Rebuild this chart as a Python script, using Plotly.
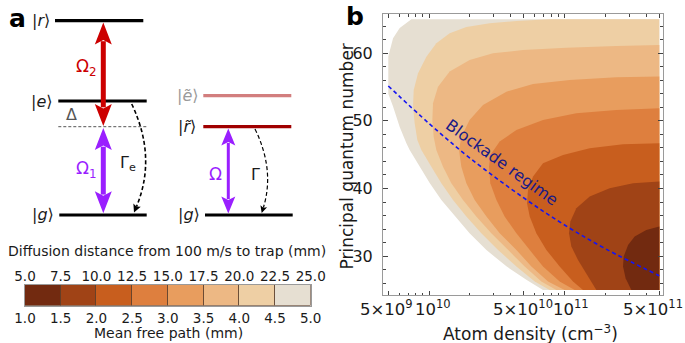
import math
import plotly.graph_objects as go

FW, FH = 685, 343
FONT = "DejaVu Sans"

# ---------------- panel b data ----------------
density_extent = [5.0e9, 5.0e11]   # atom density range of the map (cm^-3)
nq_extent = [25.0, 65.0]           # principal quantum number range of the map

# mean-free-path contour boundaries (mm): density (cm^-3) and quantum number
b50_n = [6.93e10, 5.22e10, 3.72e10, 2.65e10, 1.99e10, 1.545e10, 1.232e10, 1.01e10, 8.52e9, 7.19e9,
         6.80e9, 6.07e9, 5.42e9, 5.0e9, 5.0e9, 5.42e9, 6.07e9, 7.40e9]
b50_N = [25.0, 26.5, 28.5, 30.9, 33.4, 35.9, 38.3, 40.8, 43.2, 45.7,
         46.7, 49.1, 52.1, 54.0, 59.5, 62.2, 63.7, 65.0]
b45_n = [7.76e10, 6.02e10, 4.41e10, 3.23e10, 2.43e10, 1.884e10, 1.502e10, 1.232e10, 1.039e10, 8.77e9,
         8.19e9, 7.83e9, 7.61e9, 7.70e9, 8.29e9, 9.55e9, 1.131e10, 1.419e10, 1.884e10, 2.80e10, 4.41e10, 7.76e10]
b45_N = [25.0, 26.25, 28.46, 30.92, 33.39, 35.85, 38.31, 40.77, 43.23, 45.69,
         47.17, 49.63, 52.10, 54.56, 57.02, 59.48, 61.45, 62.93, 63.85, 64.40, 64.75, 65.0]
b40_n = [8.69e10, 6.74e10, 5.08e10, 3.82e10, 2.88e10, 2.23e10, 1.78e10, 1.46e10, 1.267e10, 1.131e10,
         1.081e10, 1.057e10, 1.069e10, 1.164e10, 1.419e10, 1.993e10, 2.96e10, 4.93e10, 1.03e11, 2.41e11, 5.0e11]
b40_N = [25.0, 26.25, 28.46, 30.92, 33.39, 35.85, 38.31, 40.77, 43.23, 45.69,
         47.66, 50.13, 52.59, 55.05, 57.27, 58.99, 59.97, 60.47, 60.81, 61.06, 61.20]
b35_n = [1.0e11, 7.55e10, 5.69e10, 4.41e10, 3.32e10, 2.65e10, 2.17e10, 1.884e10, 1.73e10, 1.663e10,
         1.73e10, 1.99e10, 2.50e10, 3.72e10, 5.85e10, 1.09e11, 2.41e11, 5.0e11]
b35_N = [25.0, 26.25, 28.46, 30.92, 33.39, 35.85, 38.31, 40.77, 43.23, 45.69,
         47.66, 50.13, 52.34, 54.31, 55.44, 56.03, 56.43, 56.53]
b30_n = [1.187e11, 9.20e10, 6.93e10, 5.53e10, 4.41e10, 3.61e10, 3.14e10, 2.83e10, 2.77e10, 2.83e10,
         3.32e10, 4.41e10, 6.93e10, 1.22e11, 2.41e11, 5.0e11]
b30_N = [25.0, 26.25, 28.46, 30.92, 33.39, 35.85, 38.31, 40.77, 43.23, 44.96,
         46.93, 48.65, 50.13, 51.11, 51.60, 51.85]
b25_n = [1.368e11, 1.154e11, 9.20e10, 7.34e10, 6.19e10, 5.53e10, 5.28e10, 5.37e10, 5.85e10, 6.93e10,
         9.74e10, 1.532e11, 2.70e11, 5.0e11]
b25_N = [25.0, 26.25, 28.46, 30.92, 33.39, 35.85, 37.82, 39.79, 41.76, 43.72,
         44.96, 45.94, 46.53, 46.68]
b20_n = [1.716e11, 1.448e11, 1.256e11, 1.122e11, 1.078e11, 1.103e11, 1.221e11, 1.532e11, 2.15e11, 3.20e11, 5.0e11]
b20_N = [25.0, 27.48, 29.45, 31.42, 33.39, 35.11, 37.08, 38.80, 40.03, 40.77, 41.02]
b15_n = [3.11e11, 2.82e11, 2.70e11, 2.73e11, 2.94e11, 3.29e11, 4.01e11, 5.0e11]
b15_N = [25.0, 26.74, 28.46, 29.94, 31.66, 32.89, 33.88, 34.37]

mfp_levels = [5.0, 4.5, 4.0, 3.5, 3.0, 2.5, 2.0, 1.5]
boundaries = [(b50_n, b50_N), (b45_n, b45_N), (b40_n, b40_N), (b35_n, b35_N),
              (b30_n, b30_N), (b25_n, b25_N), (b20_n, b20_N), (b15_n, b15_N)]

# blockade-regime line
blk_n = [5.0e9, 1.0e10, 2.0e10, 5.0e10, 1.0e11, 2.0e11, 5.0e11]
blk_N = [55.15, 49.6, 44.5, 38.6, 34.6, 31.1, 27.1]

# colour scale (mean free path, mm) and the second scale (diffusion distance, mm)
band_edges = [1.0, 1.5, 2.0, 2.5, 3.0, 3.5, 4.0, 4.5, 5.0]
band_colors = ["#722A10", "#A04316", "#C85E1E", "#DE7F3E", "#E89D5E", "#EDB884", "#EECFA4", "#E6DFD2"]
diffusion_ticks = [5.0, 7.5, 10.0, 12.5, 15.0, 17.5, 20.0, 22.5, 25.0]

x_major = [5e9, 1e10, 5e10, 1e11, 5e11]
x_major_text = ["5×10<sup>9</sup>", "10<sup>10</sup>", "5×10<sup>10</sup>", "10<sup>11</sup>", "5×10<sup>11</sup>"]
x_label_shift = [-1.5, 4, -1.3, 6.5, -6]      # label offsets from their ticks (px), as in the figure
x_minor = [6e9, 7e9, 8e9, 9e9, 2e10, 3e10, 4e10, 6e10, 7e10, 8e10, 9e10, 2e11, 3e11, 4e11]
y_major = [30, 40, 50, 60]
y_minor = [26, 28, 32, 34, 36, 38, 42, 44, 46, 48, 52, 54, 56, 58, 62, 64]


def px(x):
    return x / FW


def py(y):
    return 1 - y / FH


# ---------------- panel b geometry (pixels) ----------------
FR_L, FR_R, FR_T, FR_B = 383, 663, 14, 295        # frame
DA_L, DA_R, DA_T, DA_B = 388.3, 659.3, 19.3, 290  # map edges
lx0, lx1 = math.log10(density_extent[0]), math.log10(density_extent[1])
sx = (lx1 - lx0) / (DA_R - DA_L)
xrange_ = [lx0 - (DA_L - FR_L) * sx, lx1 + (FR_R - DA_R) * sx]
sy = (nq_extent[1] - nq_extent[0]) / (DA_B - DA_T)
yrange_ = [nq_extent[0] - (FR_B - DA_B) * sy, nq_extent[1] + (DA_T - FR_T) * sy]

fig = go.Figure()

for lev, (bn, bN) in zip(mfp_levels, boundaries):
    xs, ys = list(bn), list(bN)
    if xs[-1] < density_extent[1]:
        xs.append(density_extent[1]); ys.append(ys[-1])
    xs.append(density_extent[1]); ys.append(nq_extent[0])
    col = band_colors[band_edges.index(lev) - 1]
    fig.add_trace(go.Scatter(x=xs, y=ys, mode="lines", fill="toself", fillcolor=col,
                             line=dict(width=0, color=col), hoverinfo="skip", showlegend=False))

fig.add_trace(go.Scatter(x=blk_n, y=blk_N, mode="lines",
                         line=dict(color="#1515F0", width=1.6, dash="4px,3px", shape="spline"),
                         hoverinfo="skip", showlegend=False))

# colour bar as bars
widths = [band_edges[i + 1] - band_edges[i] for i in range(len(band_colors))]
fig.add_trace(go.Bar(x=widths, base=band_edges[:-1], y=[0] * len(widths), orientation="h", width=1,
                     marker=dict(color=band_colors, line=dict(color="rgba(90,60,40,0.8)", width=1)),
                     xaxis="x3", yaxis="y3", hoverinfo="skip", showlegend=False))
fig.add_trace(go.Scatter(x=diffusion_ticks, y=[0] * len(diffusion_ticks), mode="markers",
                         marker=dict(opacity=0), xaxis="x4", yaxis="y3", hoverinfo="skip", showlegend=False))

axis_common = dict(showline=True, linecolor="#9a9a9a", linewidth=1, mirror="allticks",
                   ticks="inside", tickcolor="#444", tickwidth=1, showgrid=False, zeroline=False,
                   tickangle=0, automargin=False,
                   tickfont=dict(family=FONT, size=16, color="#1a1a1a"))

fig.update_layout(
    width=FW, height=FH, margin=dict(l=0, r=0, t=0, b=0, autoexpand=False),
    paper_bgcolor="white", plot_bgcolor="white", showlegend=False, bargap=0,
    font=dict(family=FONT, color="#1a1a1a"),
    xaxis=dict(type="log", range=xrange_, domain=[px(FR_L), px(FR_R)], anchor="y",
               tickmode="array", tickvals=x_major, ticklen=4, showticklabels=False,
               minor=dict(tickmode="array", tickvals=x_minor, ticks="inside", ticklen=2.5,
                          tickcolor="#444"),
               **axis_common),
    yaxis=dict(range=yrange_, domain=[py(FR_B), py(FR_T)], anchor="x",
               tickmode="array", tickvals=y_major, ticklen=5, ticklabelstandoff=6,
               minor=dict(tickmode="array", tickvals=y_minor, ticks="inside", ticklen=3,
                          tickcolor="#444"),
               **axis_common),
    xaxis3=dict(domain=[px(25), px(310.7)], range=[band_edges[0], band_edges[-1]], anchor="y3",
                tickmode="array", tickvals=band_edges, ticktext=[f"{v:.1f}" for v in band_edges],
                ticks="", showline=True, mirror=True, linecolor="#9a9a9a", showgrid=False, zeroline=False,
                tickangle=0, automargin=False, ticklabeloverflow="allow",
                tickfont=dict(family=FONT, size=13.5, color="#1a1a1a")),
    xaxis4=dict(overlaying="x3", side="top", anchor="y3",
                range=[diffusion_ticks[0], diffusion_ticks[-1]],
                tickmode="array", tickvals=diffusion_ticks, ticktext=[f"{v:.1f}" for v in diffusion_ticks],
                ticks="", showgrid=False, zeroline=False, tickangle=0, automargin=False,
                ticklabeloverflow="allow",
                tickfont=dict(family=FONT, size=13.5, color="#1a1a1a")),
    yaxis3=dict(domain=[py(305.7), py(285)], range=[-0.5, 0.5], anchor="x3",
                showticklabels=False, ticks="", showline=True, mirror=True, linecolor="#9a9a9a",
                showgrid=False, zeroline=False),
)

ann = []


def text(x, y, s, size=16, color="#1a1a1a", angle=0):
    ann.append(dict(x=px(x), y=py(y), xref="paper", yref="paper", text=s, showarrow=False,
                    xanchor="center", yanchor="middle", textangle=angle,
                    font=dict(family=FONT, size=size, color=color)))


# x tick labels of panel b, placed on the log axis at their tick values
for v, t, sh in zip(x_major, x_major_text, x_label_shift):
    ann.append(dict(x=math.log10(v), y=py(307.5), xref="x", yref="paper", text=t, showarrow=False,
                    xanchor="center", yanchor="middle", xshift=sh,
                    font=dict(family=FONT, size=16.5, color="#1a1a1a")))

# panel b texts
text(355, 16.5, "<b>b</b>", size=25, color="black")
text(530, 333, "Atom density (cm<sup>−3</sup>)", size=17)
text(346, 156.5, "Principal quantum number", size=17, angle=-90)
text(502, 162.5, "Blockade regime", size=16, color="#1A1A86", angle=36)

# colour bar texts
text(167, 250.7, "Diffusion distance from 100 m/s to trap (mm)", size=14)
text(168, 332.7, "Mean free path (mm)", size=14)

# panel a texts
RED, PURPLE, BLK = "#CC0000", "#9A1FFF", "black"
text(17.5, 18.5, "<b>a</b>", size=25, color="black")
text(40.8, 20.8, "|<i>r</i>⟩")
text(41.7, 101.2, "|<i>e</i>⟩")
text(43.3, 215, "|<i>g</i>⟩")
text(71.7, 114.5, "Δ", color="#555555")
text(87, 67.8, "Ω<sub>2</sub>", color=RED, size=17)
text(86.7, 169, "Ω<sub>1</sub>", color=PURPLE, size=17)
text(128.3, 164, "Γ<sub>e</sub>")
text(187.5, 95.3, "|<i>ẽ</i>⟩", color="#9a9a9a")
text(187, 126.7, "|<i>r̃</i>⟩")
text(189, 215, "|<i>g</i>⟩")
text(215.5, 174, "Ω", color=PURPLE, size=17)
text(255.3, 174, "Γ")

shapes = []


def seg(x0, y0, x1, y1, color, width, dash=None):
    shapes.append(dict(type="line", xref="paper", yref="paper", x0=px(x0), y0=py(y0), x1=px(x1), y1=py(y1),
                       line=dict(color=color, width=width, dash=dash)))


def poly(pts, color):
    d = "M " + " L ".join(f"{px(a):.5f},{py(b):.5f}" for a, b in pts) + " Z"
    shapes.append(dict(type="path", xref="paper", yref="paper", path=d, fillcolor=color,
                       line=dict(width=0, color=color)))


def head(tipx, tipy, dx, dy, length, hw, color):
    n = math.hypot(dx, dy)
    ux, uy = dx / n, dy / n
    bx, by = tipx - ux * length, tipy - uy * length
    qx, qy = -uy, ux
    nx, ny = tipx - ux * length * 0.8, tipy - uy * length * 0.8
    poly([(tipx, tipy), (bx + qx * hw, by + qy * hw), (nx, ny), (bx - qx * hw, by - qy * hw)], color)


def double_arrow(x, ytop, ybot, color, shaft, length, hw):
    seg(x, ytop + length * 0.85, x, ybot - length * 0.85, color, shaft)
    head(x, ytop, 0, -1, length, hw, color)
    head(x, ybot, 0, 1, length, hw, color)


def curved(p0, c, p2, width, hlen, hw):
    ux, uy = p2[0] - c[0], p2[1] - c[1]
    n = math.hypot(ux, uy)
    ex, ey = p2[0] - ux / n * hlen * 0.8, p2[1] - uy / n * hlen * 0.8
    d = f"M {px(p0[0]):.5f},{py(p0[1]):.5f} Q {px(c[0]):.5f},{py(c[1]):.5f} {px(ex):.5f},{py(ey):.5f}"
    shapes.append(dict(type="path", xref="paper", yref="paper", path=d, fillcolor="rgba(0,0,0,0)",
                       line=dict(color="black", width=width, dash="4px,2.5px")))
    head(p2[0], p2[1], ux, uy, hlen, hw, "black")


# levels, left scheme
seg(55, 20.7, 143.3, 20.7, BLK, 3.2)
seg(58.3, 101, 146.7, 101, BLK, 3.2)
seg(58.3, 126.7, 146.7, 126.7, "#555555", 1, "3px,2px")
seg(59.3, 215, 146.7, 215, BLK, 3.2)
# levels, right scheme
seg(203.3, 95.7, 291.3, 95.7, "#D27E7E", 3.2)
seg(203.3, 126.7, 291.3, 126.7, "#A00000", 3.2)
seg(205, 215, 292.7, 215, BLK, 3.2)

double_arrow(103.3, 22.5, 126.0, RED, 5, 22, 8.5)
double_arrow(103.3, 128.0, 213.3, PURPLE, 5, 22, 8.5)
double_arrow(228.3, 128.5, 213.5, PURPLE, 3, 17, 7)
curved((131.7, 104), (157, 157), (134, 212.5), 1.6, 8, 4)
curved((255, 129), (275, 170), (261.7, 213), 1.2, 7, 3.5)

fig.update_layout(annotations=ann, shapes=shapes)
fig.write_html("out.html", config={"displayModeBar": False},
               post_script="document.body.style.margin='0px';document.body.style.padding='0px';")
